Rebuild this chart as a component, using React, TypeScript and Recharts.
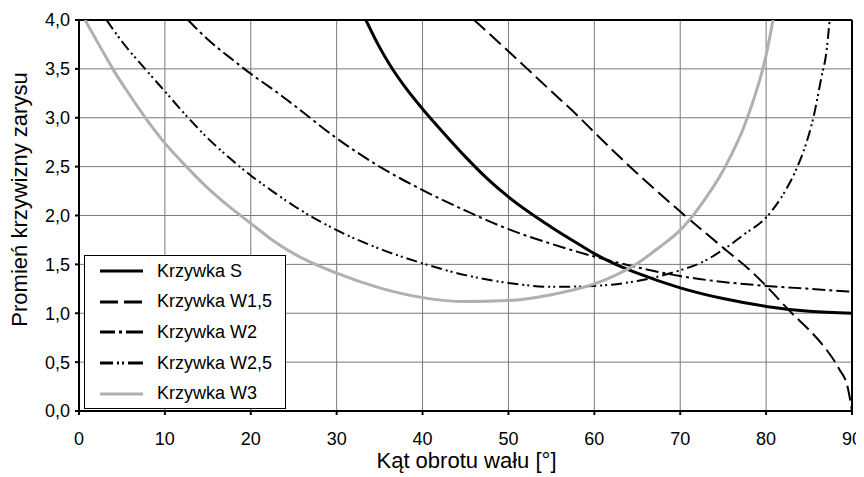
import { LineChart, Line, XAxis, YAxis, CartesianGrid, Legend, ReferenceLine, Label } from 'recharts';

// kąt obrotu [deg] i promień krzywizny dla każdej krzywej
const sAngle = [33.4, 35, 36.2, 38, 40, 42.5, 45, 47.5, 50, 55, 58.3, 60, 62.5, 65, 70, 75, 80, 85, 90];
const sRadius = [4.0, 3.72, 3.54, 3.31, 3.09, 2.84, 2.6, 2.38, 2.19, 1.88, 1.7, 1.61, 1.5, 1.41, 1.26, 1.15, 1.07, 1.02, 1.0];

const w15Angle = [46, 50, 52.2, 55, 58.3, 60, 65, 70, 75, 78.5, 80, 83, 85, 87, 88.5, 89.5, 90];
const w15Radius = [4.0, 3.68, 3.5, 3.27, 3.0, 2.85, 2.43, 2.04, 1.67, 1.41, 1.28, 1.0, 0.83, 0.63, 0.43, 0.24, 0.0];

const w2Angle = [12.7, 15, 17.5, 20, 23.2, 25, 30, 35, 40, 45, 50, 55, 60, 65, 70, 75, 80, 85, 90];
const w2Radius = [4.0, 3.8, 3.62, 3.45, 3.25, 3.13, 2.79, 2.5, 2.26, 2.05, 1.86, 1.71, 1.58, 1.47, 1.38, 1.32, 1.28, 1.25, 1.22];

const w25Angle = [3.2, 5, 7.5, 10, 12.5, 15, 17.5, 20, 22.5, 25, 30, 35, 40, 45, 50, 55, 60, 65, 70, 72.5, 75, 77.5, 80, 81.8, 83.5, 84.6, 85.5, 86.45, 87, 87.4];
const w25Radius = [4.0, 3.78, 3.52, 3.27, 3.02, 2.79, 2.59, 2.41, 2.25, 2.1, 1.85, 1.66, 1.51, 1.39, 1.31, 1.27, 1.28, 1.33, 1.44, 1.52, 1.65, 1.81, 1.98, 2.19, 2.47, 2.72, 3.0, 3.42, 3.66, 4.0];

const w3Angle = [0.7, 2.5, 4, 6, 7.65, 10, 12.5, 15, 17.5, 20, 22.5, 25, 30, 35, 40, 45, 50, 55, 60, 62.5, 65, 67.5, 70, 72.5, 75, 76, 77.3, 78.3, 79.3, 80, 80.8];
const w3Radius = [4.0, 3.72, 3.49, 3.22, 3.01, 2.74, 2.5, 2.28, 2.09, 1.92, 1.75, 1.61, 1.41, 1.26, 1.16, 1.12, 1.13, 1.19, 1.3, 1.39, 1.51, 1.67, 1.85, 2.12, 2.46, 2.63, 2.88, 3.12, 3.4, 3.64, 4.0];

const xTicks = [0, 10, 20, 30, 40, 50, 60, 70, 80, 90];
const yTicks = [0, 0.5, 1, 1.5, 2, 2.5, 3, 3.5, 4];

const toPoints = (xs: number[], ys: number[]) => xs.map((x, i) => ({ x, y: ys[i] }));

const series = [
  { name: 'Krzywka S', data: toPoints(sAngle, sRadius), stroke: '#000', width: 3, dash: undefined, legendDash: undefined },
  { name: 'Krzywka W1,5', data: toPoints(w15Angle, w15Radius), stroke: '#000', width: 2, dash: '15 6', legendDash: '18 6' },
  { name: 'Krzywka W2', data: toPoints(w2Angle, w2Radius), stroke: '#000', width: 2, dash: '13 4 3 4', legendDash: '15 4 3 4 20' },
  { name: 'Krzywka W2,5', data: toPoints(w25Angle, w25Radius), stroke: '#000', width: 2, dash: '11 4 2 3 2 4', legendDash: '13 4 2 3 2 4 20' },
  { name: 'Krzywka W3', data: toPoints(w3Angle, w3Radius), stroke: '#b0b0b0', width: 3, dash: undefined, legendDash: undefined },
];

const font = '"Liberation Sans", Arial, sans-serif';

function XTick({ x, y, payload }: any) {
  return (
    <text x={x} y={y + 28} textAnchor="middle" fill="#000" fontSize={18} fontFamily={font}>
      {payload.value}
    </text>
  );
}

function LegendBox() {
  return (
    <div
      style={{
        border: '1px solid #000',
        background: '#fff',
        width: 202,
        height: 154,
        boxSizing: 'border-box',
        fontFamily: font,
      }}
    >
      {series.map((s) => (
        <div key={s.name} style={{ display: 'flex', alignItems: 'center', height: 30.6 }}>
          <svg width={72} height={10}>
            <line x1={15} y1={5} x2={58} y2={5} stroke={s.stroke} strokeWidth={3} strokeDasharray={s.legendDash} />
          </svg>
          <span style={{ fontSize: 18, color: '#000' }}>{s.name}</span>
        </div>
      ))}
    </div>
  );
}

export default function App() {
  return (
    <div style={{ width: 856, height: 469, background: '#fff' }}>
      <LineChart width={856} height={469} margin={{ top: 12, right: 12, left: 11, bottom: 8 }}>
        <CartesianGrid stroke="#7a7a7a" strokeWidth={1} />
        <XAxis
          type="number"
          dataKey="x"
          domain={[0, 90]}
          ticks={xTicks}
          allowDataOverflow
          height={58}
          stroke="#000"
          strokeWidth={2}
          tickSize={4}
          tick={<XTick />}
        >
          <Label
            value="Kąt obrotu wału [°]"
            position="insideBottom"
            offset={1}
            dx={1}
            style={{ fill: '#000', fontSize: 22, fontFamily: font }}
          />
        </XAxis>
        <YAxis
          type="number"
          domain={[0, 4]}
          ticks={yTicks}
          allowDataOverflow
          width={60}
          stroke="#000"
          strokeWidth={2}
          tickSize={4}
          tickMargin={5}
          tickFormatter={(v: number) => v.toFixed(1).replace('.', ',')}
          tick={{ fill: '#000', fontSize: 18, fontFamily: font }}
        >
          <Label
            value="Promień krzywizny zarysu"
            angle={-90}
            position="insideLeft"
            offset={0}
            dy={-16}
            dx={0}
            style={{ fill: '#000', fontSize: 22, fontFamily: font, textAnchor: 'middle' }}
          />
        </YAxis>
        <ReferenceLine y={4} stroke="#000" strokeWidth={2} />
        <ReferenceLine x={90} stroke="#000" strokeWidth={2} />
        {series.map((s) => (
          <Line
            key={s.name}
            data={s.data}
            dataKey="y"
            name={s.name}
            type="monotone"
            stroke={s.stroke}
            strokeWidth={s.width}
            strokeDasharray={s.dash}
            dot={false}
            activeDot={false}
            isAnimationActive={false}
          />
        ))}
        <Legend
          layout="horizontal"
          verticalAlign="middle"
          align="center"
          content={() => <LegendBox />}
          wrapperStyle={{ left: 76, top: 247, width: 202, height: 154 }}
        />
      </LineChart>
    </div>
  );
}
